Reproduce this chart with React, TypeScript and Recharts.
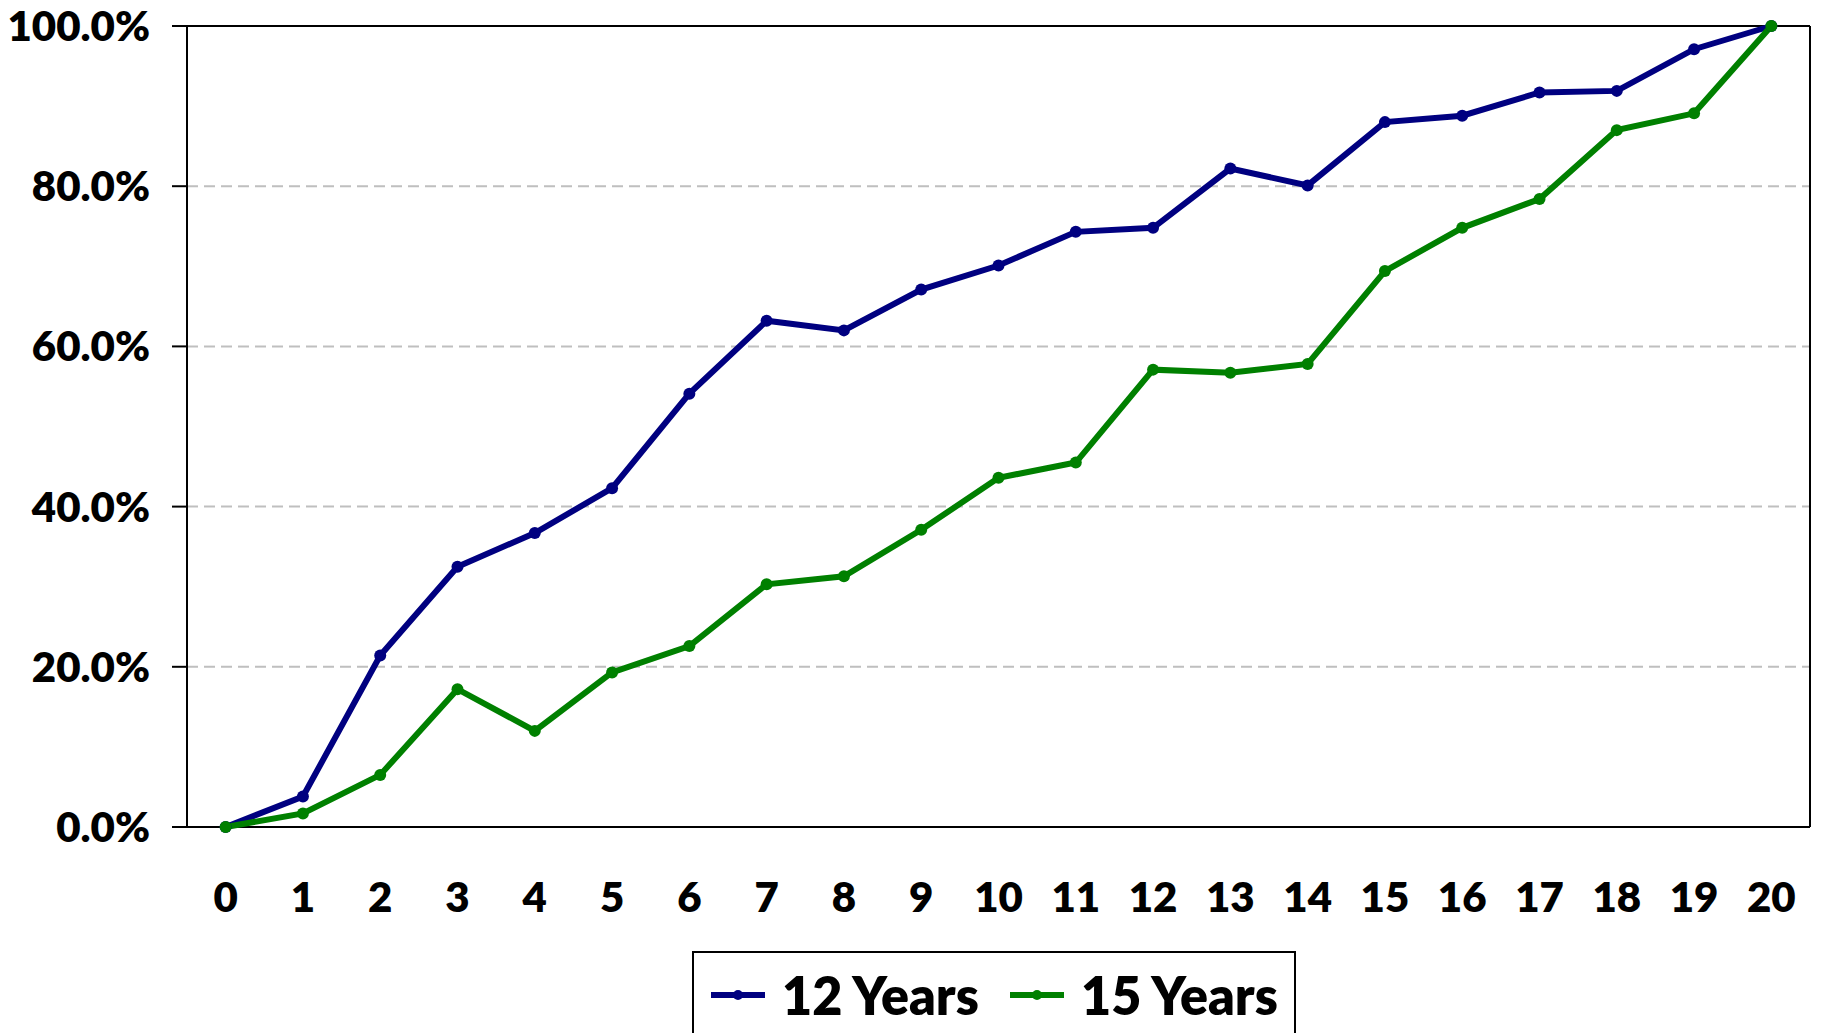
import React from "react";
import {
  LineChart,
  Line,
  XAxis,
  YAxis,
  CartesianGrid,
  ReferenceLine,
} from "recharts";

const years: number[] = [0, 1, 2, 3, 4, 5, 6, 7, 8, 9, 10, 11, 12, 13, 14, 15, 16, 17, 18, 19, 20];
const twelveYears: number[] = [
  0.0, 3.8, 21.4, 32.5, 36.7, 42.3, 54.1, 63.2, 62.0, 67.1, 70.1, 74.3, 74.8, 82.2, 80.1, 88.0, 88.8, 91.7, 91.9, 97.1, 100.0,
];
const fifteenYears: number[] = [
  0.0, 1.7, 6.5, 17.2, 12.0, 19.3, 22.6, 30.3, 31.3, 37.1, 43.6, 45.5, 57.1, 56.7, 57.8, 69.4, 74.8, 78.4, 87.0, 89.1, 100.0,
];
const yTicks: number[] = [0, 20, 40, 60, 80, 100];
const tickMarks: number[] = [
  -0.5, 0.5, 1.5, 2.5, 3.5, 4.5, 5.5, 6.5, 7.5, 8.5, 9.5, 10.5, 11.5, 12.5, 13.5, 14.5, 15.5, 16.5, 17.5, 18.5, 19.5, 20.5,
];
const seriesNames: string[] = ["12 Years", "15 Years"];
const seriesKeys: string[] = ["y12", "y15"];
const seriesColors: string[] = ["#000080", "#008000"];

const data = years.map((yr, i) => ({
  year: yr,
  y12: twelveYears[i],
  y15: fifteenYears[i],
}));

const FONT = "Lato, 'Open Sans', sans-serif";
const tickStyle = { fill: "#000", fontSize: 42, fontWeight: 800, fontFamily: FONT };

export default function App() {
  return (
    <div style={{ position: "absolute", left: 0, top: 0, width: 1823, height: 1033, background: "#fff", overflow: "hidden" }}>
      <LineChart
        width={1823}
        height={1033}
        data={data}
        margin={{ top: 26, right: 13, left: 0, bottom: 0 }}
      >
        <CartesianGrid
          vertical={false}
          stroke="#BFBFBF"
          strokeWidth={2}
          strokeDasharray="11 6"
        />
        <XAxis
          xAxisId="marks"
          dataKey="year"
          type="number"
          domain={[-0.5, 20.5]}
          ticks={tickMarks}
          interval={0}
          height={0}
          tickSize={15}
          tickFormatter={() => ""}
          axisLine={{ stroke: "#000", strokeWidth: 2 }}
          tickLine={{ stroke: "#000", strokeWidth: 2 }}
        />
        <XAxis
          xAxisId="main"
          dataKey="year"
          type="number"
          domain={[-0.5, 20.5]}
          ticks={years}
          interval={0}
          height={206}
          tickSize={0}
          tickMargin={55}
          axisLine={false}
          tickLine={false}
          tick={tickStyle}
        />
        <YAxis
          type="number"
          domain={[0, 100]}
          ticks={yTicks}
          interval={0}
          width={187}
          tickSize={15}
          tickMargin={22}
          tickFormatter={(v: number) => `${v.toFixed(1)}%`}
          axisLine={{ stroke: "#000", strokeWidth: 2 }}
          tickLine={{ stroke: "#000", strokeWidth: 2 }}
          tick={tickStyle}
        />
        <ReferenceLine xAxisId="main" y={100} stroke="#000" strokeWidth={2} />
        <ReferenceLine xAxisId="main" y={0} stroke="#000" strokeWidth={2} />
        <ReferenceLine xAxisId="main" x={20.5} stroke="#000" strokeWidth={2} />
        {seriesKeys.map((k, i) => (
          <Line
            key={k}
            xAxisId="main"
            type="linear"
            dataKey={k}
            name={seriesNames[i]}
            stroke={seriesColors[i]}
            strokeWidth={6}
            dot={{ r: 6, fill: seriesColors[i], stroke: "none" }}
            isAnimationActive={false}
          />
        ))}
      </LineChart>
      <div
        style={{
          position: "absolute",
          left: 692,
          top: 951,
          width: 604,
          height: 120,
          border: "2px solid #000",
          boxSizing: "border-box",
          background: "#fff",
        }}
      >
        {seriesNames.map((n, i) => (
          <div
            key={n}
            style={{
              position: "absolute",
              left: i === 0 ? 16 : 315,
              top: 14,
              height: 56,
              display: "flex",
              alignItems: "center",
              whiteSpace: "nowrap",
            }}
          >
            <svg width={56} height={20} style={{ display: "block" }}>
              <line x1={1} y1={10} x2={55} y2={10} stroke={seriesColors[i]} strokeWidth={6} />
              <circle cx={28} cy={10} r={5} fill={seriesColors[i]} />
            </svg>
            <span
              style={{
                marginLeft: 16,
                fontFamily: FONT,
                fontWeight: 800,
                fontSize: 52,
                lineHeight: "56px",
                color: "#000",
              }}
            >
              {n}
            </span>
          </div>
        ))}
      </div>
    </div>
  );
}
